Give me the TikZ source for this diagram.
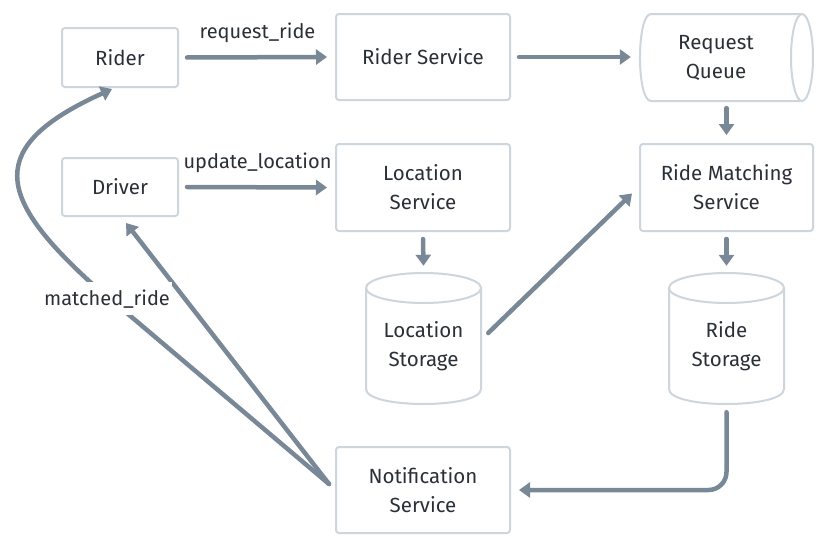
\documentclass[tikz,border=0pt]{standalone}
\usepackage{fontspec}
\setmainfont{Fira Sans}
\usetikzlibrary{arrows.meta}
\definecolor{edgec}{HTML}{788896}
\definecolor{boxline}{HTML}{CDD5DD}
\definecolor{txt}{HTML}{2B3038}
\begin{document}
\begin{tikzpicture}[x=1pt,y=-1pt,
  box/.style={draw=boxline, line width=2pt, rounded corners=3pt, text=txt, align=center,
    font=\fontsize{20.5}{29}\selectfont, inner sep=0pt},
  cyl/.style={draw=boxline, line width=2pt},
  cyltext/.style={text=txt, align=center, font=\fontsize{20.5}{29}\selectfont, inner sep=0pt},
  arr/.style={draw=edgec, line width=4.5pt, line cap=round, -{Triangle[length=11pt,width=15pt]}},
  lbl/.style={text=txt, font=\fontsize{20}{22}\selectfont, inner sep=0pt}]
\useasboundingbox[fill=white] (0,0) rectangle (825,546);

% boxes
\node[box, minimum width=116pt, minimum height=59pt] (rider) at (120,57.5) {Rider};
\node[box, minimum width=174pt, minimum height=86pt] (rs) at (423,57) {Rider Service};
\node[box, minimum width=116pt, minimum height=58pt] (driver) at (120,187) {Driver};
\node[box, minimum width=174pt, minimum height=87pt] (locs) at (423,187.5) {Location\\Service};
\node[box, minimum width=173pt, minimum height=87pt] (rm) at (726.5,187.5) {Ride Matching\\Service};
\node[box, minimum width=174pt, minimum height=86pt] (notif) at (423,490) {Notification\\Service};

% request queue (horizontal cylinder)
\node[minimum width=173pt, minimum height=87pt, inner sep=0pt] (queue) at (726.5,57.5) {};
\draw[cyl] (802,14) -- (651,14) .. controls (636.3,14) and (636.3,101) .. (651,101) -- (802,101);
\draw[cyl] (802,57.5) ellipse [x radius=11, y radius=43.5];
\node[cyltext] (queuetext) at (716,57.5) {Request\\Queue};

% location storage (vertical cylinder)
\node[minimum width=115pt, minimum height=130pt, inner sep=0pt] (lstore) at (423.5,339) {};
\draw[cyl] (366,288) -- (366,389) .. controls (366,409) and (481,409) .. (481,389) -- (481,288);
\draw[cyl] (423.5,288) ellipse [x radius=57.5, y radius=15];
\node[cyltext] (lstoretext) at (423.5,346.5) {Location\\Storage};

% ride storage (vertical cylinder)
\node[minimum width=115pt, minimum height=130pt, inner sep=0pt] (rstore) at (726.5,339) {};
\draw[cyl] (669,288) -- (669,389) .. controls (669,409) and (784,409) .. (784,389) -- (784,288);
\draw[cyl] (726.5,288) ellipse [x radius=57.5, y radius=15];
\node[cyltext] (rstoretext) at (726.5,346.5) {Ride\\Storage};

% connectors
\draw[arr] ([xshift=8]rider.east) -- ([xshift=-8]rs.west);
\node[lbl, anchor=base] (lreq) at (257.5,38) {request\_ride};
\draw[arr] ([xshift=8]rs.east) -- ([xshift=-9]queue.west |- rs.east);
\draw[arr] ([shift={(0,7)}]queue.south) -- ([shift={(0,-8)}]rm.north);
\draw[arr] ([xshift=8]driver.east) -- ([xshift=-8]locs.west);
\node[lbl, anchor=base] (lupd) at (257.5,168) {update\_location};
\draw[arr] ([shift={(0,7)}]locs.south) -- ([shift={(0,-8)}]lstore.north);
\draw[arr] ([shift={(0,7)}]rm.south) -- ([shift={(0,-8)}]rstore.north);
\draw[arr] ([shift={(7,-6)}]lstore.east) -- ([shift={(-7,6)}]rm.west);
\draw[arr, rounded corners=18pt] ([shift={(0,8)}]rstore.south) |- ([xshift=8]notif.east);
\draw[arr] ([shift={(-6,-6)}]notif.west) -- ([shift={(6,6)}]driver.south);
\draw[arr] ([shift={(-6,-6)}]notif.west) -- (89,281)
  .. controls (-1.3,197.6) and (-16.7,147.1) .. ([shift={(-8,1)}]rider.south);
\node[lbl, anchor=base, fill=white, inner xsep=2pt, inner ysep=7pt] (lmat) at (107,305) {matched\_ride};
\end{tikzpicture}
\end{document}
